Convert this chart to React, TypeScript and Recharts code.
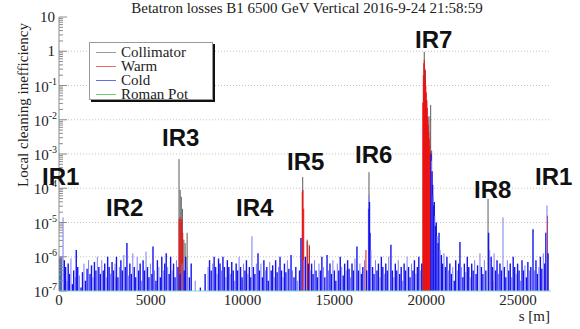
import { ComposedChart, XAxis, YAxis, ReferenceLine } from 'recharts'

// each entry: [s in metres, log10 of local cleaning inefficiency]
const collimator: [number, number][] = [
  [6537, -3.15], [6600, -4.05], [6660, -4.25], [6720, -4.6], [6800, -5.5], [6870, -5.6], [6980, -5.3],
  [13275, -3.67], [13520, -5.5], [13630, -5.65],
  [16886, -3.53],
  [19860, -1.2], [19895, -0.02], [19960, -0.55], [20030, -1.42], [20090, -2.0], [20155, -1.9], [20245, -1.57], [20300, -2.9],
  [23370, -4.31],
]

const warm: [number, number][] = [
  [3100, -6.6],
  [6545, -4.9], [6590, -4.85], [6640, -5.0], [6690, -4.9], [6740, -5.3],
  [10030, -6.7],
  [13250, -4.1], [13290, -4.05], [13330, -4.6], [13520, -5.55], [13640, -5.7],
  [16720, -5.8],
  [19818, -1.5], [19845, -0.7], [19872, -0.35], [19899, -0.25], [19926, -0.5], [19953, -0.8],
  [19980, -1.0], [20007, -1.2], [20034, -1.45], [20061, -1.65], [20088, -1.9],
  [20115, -2.15], [20142, -2.35], [20169, -2.55], [20196, -2.75], [20223, -2.95],
  [23640, -6.7],
  [26610, -4.8],
]

const romanPot: [number, number][] = [
  [60, -6.15],
]

const cold: [number, number][] = [
  [40, -6.05], [110, -6.0], [220, -4.85], [290, -6.1], [360, -6.3], [430, -6.7], [500, -6.2], [570, -6.5],
  [650, -6.05], [730, -6.8], [800, -6.4], [880, -6.6], [940, -5.8], [1020, -6.3], [1110, -6.55], [1200, -6.9],
  [1280, -6.45], [1360, -6.2], [1440, -6.7], [1530, -6.35], [1610, -6.1], [1690, -6.5], [1770, -6.25], [1850, -6.6],
  [1930, -6.15], [2010, -6.4], [2090, -6.0], [2170, -6.3], [2250, -6.5], [2330, -6.1], [2410, -6.4], [2490, -6.2],
  [2570, -6.6], [2650, -6.0], [2730, -6.3], [2810, -6.5], [2890, -6.15], [2970, -6.4], [3050, -6.2], [3130, -6.0],
  [3210, -6.6], [3290, -6.3], [3370, -6.1], [3450, -6.4], [3530, -5.95], [3610, -6.3], [3700, -5.6], [3780, -6.55],
  [3860, -6.2], [3940, -6.5], [4020, -5.9], [4100, -6.3], [4180, -6.6], [4260, -6.0], [4340, -6.4], [4420, -6.2],
  [4500, -6.7], [4580, -6.1], [4660, -6.4], [4740, -5.85], [4820, -6.3], [4900, -6.6], [4980, -6.2], [5060, -6.5],
  [5120, -5.7], [5200, -6.4], [5280, -6.7], [5360, -6.1], [5440, -6.3], [5520, -6.6], [5600, -6.0], [5680, -6.4],
  [5760, -6.2], [5840, -5.9], [5920, -6.3], [6000, -6.5], [6080, -6.0], [6160, -6.4], [6240, -6.2], [6320, -6.6],
  [6400, -6.1], [6480, -6.3], [6600, -6.5], [6700, -6.2], [6820, -6.4], [6900, -6.0], [7000, -6.3], [7100, -6.6],
  [7200, -6.2], [7420, -6.7], [7700, -6.9], [7960, -6.5],
  [8120, -6.3], [8200, -6.1], [8290, -6.4], [8370, -6.2], [8450, -6.0], [8530, -6.3], [8610, -6.5], [8690, -6.05],
  [8770, -6.2], [8850, -6.4], [8930, -6.0], [9010, -6.3], [9090, -6.6], [9170, -6.1], [9250, -6.3], [9330, -6.5],
  [9410, -6.15], [9490, -6.4], [9570, -6.7], [9650, -6.2], [9730, -6.4], [9810, -6.0], [9890, -6.3], [9970, -6.6],
  [10050, -6.2], [10130, -6.4], [10210, -6.1], [10290, -6.5], [10370, -6.3], [10450, -6.6], [10510, -5.4], [10590, -6.3],
  [10670, -6.5], [10750, -6.2], [10840, -5.9], [10920, -6.4], [11000, -6.2], [11080, -6.6], [11160, -6.1], [11240, -6.4],
  [11320, -6.3], [11400, -6.7], [11480, -6.15], [11560, -6.4], [11640, -6.25], [11720, -6.6], [11800, -6.1], [11880, -6.45],
  [11960, -6.3], [12040, -6.0], [12120, -6.4], [12200, -6.6], [12280, -6.2], [12360, -6.45], [12440, -6.1], [12520, -6.35],
  [12640, -5.95], [12720, -6.4], [12800, -6.6], [12900, -6.3], [13000, -6.7], [13100, -6.4], [13180, -5.45], [13330, -6.1],
  [13420, -6.0], [13580, -6.2], [13680, -6.4],
  [13760, -6.2], [13840, -6.5], [13920, -6.1], [14000, -6.4], [14080, -6.6], [14160, -6.2], [14240, -6.4], [14320, -6.0],
  [14400, -6.3], [14480, -6.6], [14600, -5.95], [14680, -6.4], [14760, -6.2], [14840, -6.5], [14920, -6.1], [15000, -6.4],
  [15080, -6.7], [15160, -6.2], [15240, -6.4], [15320, -6.0], [15400, -6.3], [15480, -6.55], [15560, -6.2], [15640, -6.4],
  [15720, -6.1], [15800, -6.35], [15880, -6.6], [15960, -6.2], [16040, -6.4], [16120, -6.05], [16230, -5.7], [16310, -6.4],
  [16390, -6.2], [16470, -6.5], [16550, -6.3], [16640, -6.1], [16760, -6.4],
  [16866, -4.6], [16890, -4.2], [16912, -4.4], [16940, -5.3], [16990, -5.8],
  [17080, -6.3], [17160, -6.5], [17240, -6.1], [17320, -6.4], [17400, -6.2], [17480, -6.6], [17560, -6.0], [17640, -6.3],
  [17720, -6.5], [17800, -6.2], [17880, -6.4], [17960, -6.0], [18080, -5.65], [18160, -6.4], [18240, -6.6], [18320, -6.2],
  [18400, -6.4], [18480, -6.1], [18560, -6.5], [18640, -6.3], [18720, -6.7], [18800, -6.2], [18880, -6.4], [18960, -6.0],
  [19040, -6.3], [19120, -6.6], [19200, -6.2], [19280, -6.4], [19360, -6.1], [19440, -6.5], [19520, -6.3], [19600, -6.0],
  [19680, -6.4], [19760, -6.2],
  [20262, -3.0], [20292, -3.2], [20322, -3.5], [20352, -3.9], [20382, -4.2], [20412, -4.5], [20442, -4.4], [20472, -4.8],
  [20510, -5.1], [20550, -5.0], [20600, -5.4], [20650, -5.6], [20700, -5.3], [20760, -5.8], [20830, -5.95], [20900, -6.2],
  [20970, -5.9], [21050, -6.3], [21130, -6.0], [21210, -6.4],
  [21290, -6.2], [21370, -6.5], [21450, -6.3], [21530, -6.7], [21610, -6.1], [21690, -6.4], [21770, -6.2], [21840, -5.57],
  [21920, -6.3], [22000, -6.6], [22080, -6.2], [22160, -6.45], [22240, -6.0], [22320, -6.3], [22400, -6.6], [22480, -6.2],
  [22560, -6.4], [22640, -6.1], [22720, -6.5], [22800, -6.25], [22930, -5.9], [23010, -6.3], [23090, -6.5], [23170, -6.1],
  [23250, -6.4], [23400, -5.3], [23460, -5.8], [23540, -6.0], [23620, -6.3], [23700, -5.9], [23780, -6.4], [23860, -6.1],
  [23940, -6.5], [24020, -6.2], [24100, -6.4], [24185, -4.85], [24260, -6.3], [24340, -6.6], [24420, -6.1], [24500, -6.4],
  [24580, -6.2], [24660, -6.6], [24740, -6.0], [24820, -6.3], [24900, -6.5], [24980, -6.2], [25060, -6.4], [25140, -6.7],
  [25220, -6.1], [25300, -6.4], [25380, -6.25], [25460, -6.6], [25540, -6.15], [25620, -6.4], [25700, -6.3], [25820, -5.2],
  [25900, -6.4], [25980, -6.1], [26060, -6.5], [26140, -6.3], [26220, -6.0], [26300, -6.35], [26380, -5.9], [26460, -6.2],
  [26520, -5.3], [26580, -4.5], [26640, -5.9],
]

const xTicks = [0, 5000, 10000, 15000, 20000, 25000]
const decadeExps = [-7, -6, -5, -4, -3, -2, -1, 0, 1]
const minorSteps = [2, 3, 4, 5, 6, 7, 8, 9]
const gridExps = [-6, -5, -4, -3, -2, -1, 0]

const irNames = ['IR1', 'IR2', 'IR3', 'IR4', 'IR5', 'IR6', 'IR7', 'IR8', 'IR1']
const legendItems = [
  { name: 'Collimator', color: '#9a9a9a' },
  { name: 'Warm', color: '#f06a6a' },
  { name: 'Cold', color: '#6a6af0' },
  { name: 'Roman Pot', color: '#70d070' },
]

const FLOOR = 1e-7
const SERIF = '"Liberation Serif", "Times New Roman", serif'

const yTicks: number[] = []
decadeExps.forEach(e => {
  yTicks.push(10 ** e)
  if (e < 1) minorSteps.forEach(m => yTicks.push(m * 10 ** e))
})

function isDecade(v: number) {
  const l = Math.log10(v)
  return Math.abs(l - Math.round(l)) < 1e-6
}

function LeftTick({ x, y, payload }: any) {
  const v = payload.value
  const major = isDecade(v)
  const exp = Math.round(Math.log10(v))
  return (
    <g>
      <line x1={x} x2={x + (major ? 8 : 4)} y1={y} y2={y} stroke="#8c8c8c" />
      {major && (exp === 0 || exp === 1 ? (
        <text x={x - 4} y={y + 5} textAnchor="end" fontFamily={SERIF} fontSize={15} fill="#222">
          {exp === 0 ? '1' : '10'}
        </text>
      ) : (
        <text x={x - 2} y={y + 6} textAnchor="end" fontFamily={SERIF} fontSize={15} fill="#222">
          10<tspan dy={-7} fontSize={10}>{exp}</tspan>
        </text>
      ))}
    </g>
  )
}

function RightTick({ x, y, payload }: any) {
  const major = isDecade(payload.value)
  return <line x1={x - (major ? 8 : 4)} x2={x} y1={y} y2={y} stroke="#8c8c8c" />
}

function BottomTick({ x, y, payload }: any) {
  return (
    <text x={x} y={y + 14} textAnchor="middle" fontFamily={SERIF} fontSize={15} fill="#222">
      {payload.value}
    </text>
  )
}

export default function App() {
  const irPos = [
    [42, 185], [106, 216], [162, 146], [236, 216], [287, 170], [355, 163], [415, 48], [474, 198], [535, 185],
  ]
  const spike = (s: number, e: number, key: string, color: string, w = 1) => (
    <ReferenceLine
      key={key}
      segment={[{ x: s, y: FLOOR }, { x: s, y: 10 ** e }]}
      stroke={color}
      strokeWidth={w}
      ifOverflow="visible"
    />
  )
  return (
    <div style={{ position: 'absolute', left: 0, top: 0, width: 580, height: 329, background: '#fff' }}>
      <ComposedChart width={580} height={329} margin={{ top: 17, right: 29, bottom: 8, left: 0 }}>
        <XAxis
          type="number"
          dataKey="s"
          domain={[0, 26800]}
          allowDataOverflow
          ticks={xTicks}
          interval={0}
          tickSize={0}
          tickMargin={0}
          tickLine={false}
          tick={<BottomTick />}
          axisLine={{ stroke: '#86d8c6' }}
          height={30}
        />
        <YAxis
          scale="log"
          type="number"
          domain={[FLOOR, 10]}
          allowDataOverflow
          ticks={yTicks}
          interval={0}
          tickSize={0}
          tickMargin={0}
          tickLine={false}
          tick={<LeftTick />}
          axisLine={{ stroke: '#8c8c8c' }}
          width={59}
        />
        <YAxis
          yAxisId="r"
          orientation="right"
          scale="log"
          type="number"
          domain={[FLOOR, 10]}
          allowDataOverflow
          ticks={yTicks}
          interval={0}
          tickSize={0}
          tickMargin={0}
          tickLine={false}
          tick={<RightTick />}
          axisLine={{ stroke: '#8c8c8c' }}
          width={0}
        />
        {gridExps.map(e => (
          <ReferenceLine key={'g' + e} y={10 ** e} stroke="#c4c4c4" strokeDasharray="1 2" ifOverflow="visible" />
        ))}
        {collimator.map(([s, e], i) => spike(s, e, 'c' + i, '#5a5a5a'))}
        {warm.map(([s, e], i) => spike(s, e, 'w' + i, '#ee1111'))}
        {cold.map(([s, e], i) => i % 3 === 2
          ? spike(s, e, 'b' + i, '#7c7cf6')
          : spike(s, e, 'b' + i, '#1414ee', 1.4))}
        {romanPot.map(([s, e], i) => spike(s, e, 'r' + i, '#22bb22'))}
      </ComposedChart>

      <svg width={580} height={329} style={{ position: 'absolute', left: 0, top: 0, pointerEvents: 'none' }}>
        <text x={307} y={13} textAnchor="middle" fontFamily={SERIF} fontSize={15} fill="#222">
          Betatron losses B1 6500 GeV Vertical 2016-9-24 21:58:59
        </text>
        <text transform="translate(28,105) rotate(-90)" textAnchor="middle" fontFamily={SERIF} fontSize={15} fill="#222">
          Local cleaning inefficiency
        </text>
        <text x={550} y={321} textAnchor="end" fontFamily={SERIF} fontSize={15} fill="#222">s [m]</text>
        {irNames.map((n, i) => (
          <text key={i} x={irPos[i][0]} y={irPos[i][1]} fontFamily='"Liberation Sans", Arial, sans-serif'
            fontWeight="bold" fontSize={24} fill="#111">{n}</text>
        ))}
      </svg>

      <div style={{
        position: 'absolute', left: 89, top: 42, width: 122, height: 56,
        border: '1px solid #999', background: '#fff', boxShadow: '2px 2px 0 #111',
        fontFamily: SERIF, fontSize: 15, color: '#222',
      }}>
        {legendItems.map((it, i) => (
          <div key={it.name} style={{ position: 'absolute', left: 0, top: 2 + i * 14, height: 14, lineHeight: '14px', whiteSpace: 'nowrap' }}>
            <span style={{ position: 'absolute', left: 6, top: 7, width: 20, height: 1, background: it.color }} />
            <span style={{ position: 'absolute', left: 31, top: 0 }}>{it.name}</span>
          </div>
        ))}
      </div>
    </div>
  )
}
